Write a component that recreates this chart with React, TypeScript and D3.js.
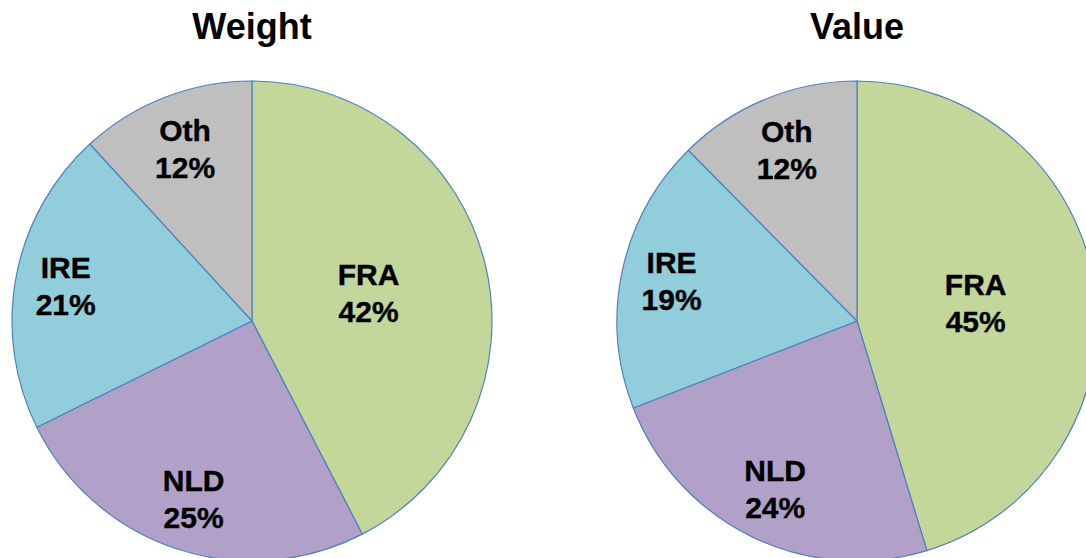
import React from "react";
import * as d3 from "d3";

const categories = ["FRA", "NLD", "IRE", "Oth"];
const weightValues = [42.4, 25.3, 20.5, 11.8];
const valueValues = [45.3, 23.8, 18.5, 12.4];
const titles = ["Weight", "Value"];
const colors = ["#C4D79B", "#B1A0C7", "#92CDDC", "#BFBFBF"];
const labelRadiusFactor = [0.5, 0.78, 0.79, 0.77];

const W = 1086;
const H = 558;
const R = 240;
const centers = [
  { x: 252, y: 321 },
  { x: 857, y: 321 },
];

function Pie({ values, cx, cy, title }: { values: number[]; cx: number; cy: number; title: string }) {
  const pie = d3
    .pie<number>()
    .sort(null)
    .value((d) => d);
  const arcs = pie(values);
  const arcGen = d3.arc<d3.PieArcDatum<number>>().innerRadius(0).outerRadius(R);
  return (
    <g>
      <text
        x={cx}
        y={39}
        textAnchor="middle"
        fontFamily="Liberation Sans, Arial, sans-serif"
        fontWeight="bold"
        fontSize={36}
        fill="#000"
      >
        {title}
      </text>
      <g transform={`translate(${cx},${cy})`}>
        {arcs.map((a, i) => (
          <path key={i} d={arcGen(a) || ""} fill={colors[i]} stroke="#4F81BD" strokeWidth={1.2} />
        ))}
        {arcs.map((a, i) => {
          const mid = (a.startAngle + a.endAngle) / 2;
          const r = R * labelRadiusFactor[i];
          const x = Math.sin(mid) * r;
          const y = -Math.cos(mid) * r;
          return (
            <text
              key={"l" + i}
              textAnchor="middle"
              fontFamily="Liberation Sans, Arial, sans-serif"
              fontWeight="bold"
              fontSize={30}
              fill="#000"
              stroke="#000"
              strokeWidth={0.4}
            >
              <tspan x={x} y={y - 8}>
                {categories[i]}
              </tspan>
              <tspan x={x} y={y + 29}>
                {`${Math.round(values[i])}%`}
              </tspan>
            </text>
          );
        })}
      </g>
    </g>
  );
}

export default function App() {
  return (
    <svg
      width={W}
      height={H}
      style={{ position: "absolute", left: 0, top: 0, background: "#fff" }}
    >
      <rect width={W} height={H} fill="#fff" />
      <Pie values={weightValues} cx={centers[0].x} cy={centers[0].y} title={titles[0]} />
      <Pie values={valueValues} cx={centers[1].x} cy={centers[1].y} title={titles[1]} />
    </svg>
  );
}
